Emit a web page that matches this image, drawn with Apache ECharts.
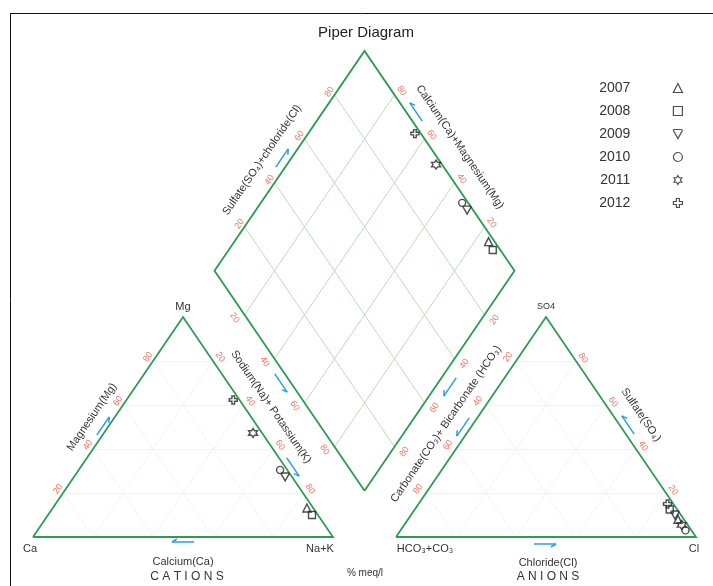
<!DOCTYPE html>
<html>
<head>
<meta charset="UTF-8">
<title>Piper Diagram</title>
<style>
  html, body { margin: 0; padding: 0; background: #fff; }
  #main { width: 713px; height: 586px; }
</style>
</head>
<body>
<div id="main"></div>
<script src="https://cdn.jsdelivr.net/npm/echarts@6/dist/echarts.min.js"></script>
<script>
// sampling years
var years = ['2007', '2008', '2009', '2010', '2011', '2012'];
// cations, % meq/l
var ca  = [2.1, 2.0, 2.3, 2.4, 3.0, 2.1];
var mg  = [13.2, 10.0, 27.3, 30.5, 47.3, 62.3];
var naK = [84.7, 88.0, 70.4, 67.1, 49.7, 35.6];
// anions, % meq/l
var hco3 = [2.0, 2.5, 2.0, 2.0, 2.0, 2.0];
var so4  = [8.0, 12.5, 10.0, 3.0, 5.5, 15.0];
var cl   = [90.0, 85.0, 88.0, 95.0, 92.5, 83.0];
// percentage ticks on every side
var ticks = [20, 40, 60, 80];

// --- geometry (triangle side = 100) ---
var H = 86.6, G = 21;
var B = [100 + G / 2, G * H / 100];   // bottom vertex of the diamond
var SX = 663 / 221, SY = 508 / 200;    // px per unit
var ROT = 55.7, RAD = ROT * Math.PI / 180;
var FONT = 'Liberation Sans, Arial, sans-serif';

function cat(c, m, n) { return [n + m / 2, m * H / 100]; }
function an(h, s, c) { return [100 + G + c + s / 2, s * H / 100]; }
function dia(cm, sc) { return [B[0] + (sc - cm) / 2, B[1] + (sc + cm) * H / 100]; }
function sh(p, dx, dy) { return [p[0] + dx / SX, p[1] - dy / SY]; }

// frames
var frames = [
    [cat(100, 0, 0), cat(0, 0, 100), cat(0, 100, 0), cat(100, 0, 0)],
    [an(100, 0, 0), an(0, 0, 100), an(0, 100, 0), an(100, 0, 0)],
    [dia(0, 0), dia(0, 100), dia(100, 100), dia(100, 0), dia(0, 0)]
];

// inner grid lines + tick labels
var triGrid = [], diaGrid = [], tickData = [];
function addTick(p, v, dx, dy, rot) {
    tickData.push({name: String(v), value: sh(p, dx, dy), label: {rotate: rot}});
}
ticks.forEach(function (v) {
    var w = 100 - v;
    triGrid.push({coords: [cat(w, v, 0), cat(0, v, w)]});
    triGrid.push({coords: [cat(v, 0, w), cat(v, w, 0)]});
    triGrid.push({coords: [cat(w, 0, v), cat(0, w, v)]});
    triGrid.push({coords: [an(w, v, 0), an(0, v, w)]});
    triGrid.push({coords: [an(v, 0, w), an(v, w, 0)]});
    triGrid.push({coords: [an(w, 0, v), an(0, w, v)]});
    diaGrid.push({coords: [dia(0, v), dia(100, v)]});
    diaGrid.push({coords: [dia(v, 0), dia(v, 100)]});

    addTick(cat(v, 0, w), v, 1, 8, 0);          // Ca
    addTick(cat(w, v, 0), v, -5, -4, ROT);      // Mg
    addTick(cat(0, w, v), v, 7, -4, -ROT);      // Na+K
    addTick(an(w, 0, v), v, 0, 8, 0);           // Cl
    addTick(an(v, w, 0), v, -8, -4, ROT);       // HCO3
    addTick(an(0, v, w), v, 7, -3, -ROT);       // SO4
    addTick(dia(100, v), v, -5, -3, ROT);       // SO4+Cl
    addTick(dia(v, 100), v, 7, -4, -ROT);       // Ca+Mg
    addTick(dia(w, 0), v, -10, 3, -ROT);        // Na+K (diamond)
    addTick(dia(0, w), v, 10, 5, ROT);          // HCO3 (diamond)
});

var symbols = [
    'triangle',
    'rect',
    'path://M-8,-6 Q-8,-8 -6,-8 L6,-8 Q8,-8 8,-6 L0,8 Z',
    'circle',
    'path://M0,-10 L2.9,-5 L8.66,-5 L5.8,0 L8.66,5 L2.9,5 L0,10 L-2.9,5 L-8.66,5 L-5.8,0 L-8.66,-5 L-2.9,-5 Z',
    'path://M-3,-9 L3,-9 L3,-3 L9,-3 L9,3 L3,3 L3,9 L-3,9 L-3,3 L-9,3 L-9,-3 L-3,-3 Z'
];
var sizes = [8, 7, 8, 7, 9, 8];

var series = [
    {
        type: 'lines', coordinateSystem: 'cartesian2d', silent: true, z: 1,
        lineStyle: {color: '#f3f3f3', width: 1, opacity: 1},
        data: triGrid
    },
    {
        type: 'lines', coordinateSystem: 'cartesian2d', silent: true, z: 1,
        lineStyle: {color: '#bddcbd', width: 1, opacity: 1},
        data: diaGrid
    },
    {
        type: 'lines', coordinateSystem: 'cartesian2d', polyline: true, silent: true, z: 2,
        lineStyle: {color: '#2f9a52', width: 1.8, opacity: 1},
        data: frames.map(function (f) { return {coords: f}; })
    },
    {
        type: 'scatter', silent: true, symbolSize: 1, z: 3,
        itemStyle: {color: 'rgba(0,0,0,0)'},
        label: {
            show: true, position: 'inside', formatter: '{b}',
            color: '#e8553e', fontSize: 9, fontFamily: FONT
        },
        data: tickData
    }
];

years.forEach(function (y, i) {
    series.push({
        name: y,
        type: 'scatter',
        symbol: symbols[i],
        symbolSize: sizes[i],
        z: 10,
        itemStyle: {color: 'rgba(255,255,255,0)', borderColor: '#222', borderWidth: 1.4},
        data: [
            cat(ca[i], mg[i], naK[i]),
            an(hco3[i], so4[i], cl[i]),
            dia(ca[i] + mg[i], so4[i] + cl[i])
        ]
    });
});

// --- annotations ---
var BLUE = '#2a9fd8';
function arrow(cx, cy, ang) {
    var h = 11;
    var st = {stroke: BLUE, lineWidth: 1.5};
    return {
        type: 'group', x: cx, y: cy, rotation: ang, silent: true,
        children: [
            {type: 'line', shape: {x1: -h, y1: 0, x2: h, y2: 0}, style: st},
            {type: 'line', shape: {x1: h, y1: 0, x2: h - 5, y2: 3}, style: st}
        ]
    };
}
function txt(x, y, s, size, rot, color) {
    return {
        type: 'text', x: x, y: y, rotation: rot || 0, silent: true,
        style: {
            text: s, fill: color || '#333', font: (size || 11) + 'px ' + FONT,
            align: 'center', verticalAlign: 'middle',
            textAlign: 'center', textVerticalAlign: 'middle'
        }
    };
}

var graphics = [
    {type: 'line', shape: {x1: 10.5, y1: 13, x2: 10.5, y2: 586}, style: {stroke: '#111', lineWidth: 1}},
    {type: 'line', shape: {x1: 10, y1: 13.5, x2: 713, y2: 13.5}, style: {stroke: '#111', lineWidth: 1}},
    txt(366, 33, 'Piper Diagram', 15, 0, '#222'),

    txt(262, 160, 'Sulfate(SO₄)+choloride(Cl)', 11, RAD),
    txt(460, 147, 'Calcium(Ca)+Magnesium(Mg)', 11, -RAD),
    txt(271, 407, 'Sodium(Na)+ Potassium(K)', 11, -RAD),
    txt(92, 417, 'Magnesium(Mg)', 11, RAD),
    txt(446, 424, 'Carbonate(CO₃)+ Bicarbonate (HCO₃)', 11, RAD),
    txt(641, 415, 'Sulfate(SO₄)', 11, -RAD),

    txt(183, 307, 'Mg', 11),
    txt(30, 549, 'Ca', 11),
    txt(320, 549, 'Na+K', 11),
    txt(425, 549, 'HCO₃+CO₃', 11),
    txt(694, 549, 'Cl', 11),
    txt(546, 307, 'SO4', 9),

    txt(183, 562, 'Calcium(Ca)', 11),
    txt(187, 577, 'C A T I O N S', 12),
    txt(548, 563, 'Chloride(Cl)', 11),
    txt(548, 577, 'A N I O N S', 12),
    txt(365, 573, '% meq/l', 10),

    arrow(282, 158, RAD),
    arrow(416, 112, Math.PI - RAD),
    arrow(281, 383, -RAD),
    arrow(293, 467, -RAD),
    arrow(103, 426, RAD),
    arrow(450, 387, Math.PI + RAD),
    arrow(463, 427, Math.PI + RAD),
    arrow(628, 425, Math.PI - RAD),
    arrow(183, 542, Math.PI),
    arrow(545, 544, 0)
];

var chart = echarts.init(document.getElementById('main'));
chart.setOption({
    animation: false,
    backgroundColor: '#fff',
    grid: {left: 33, right: 17, top: 29, bottom: 49},
    xAxis: {type: 'value', min: 0, max: 221, show: false},
    yAxis: {type: 'value', min: 0, max: 200, show: false},
    legend: {
        data: years,
        orient: 'vertical',
        right: 25,
        top: 76,
        align: 'right',
        itemWidth: 9,
        itemHeight: 9,
        itemGap: 9,
        itemStyle: {color: 'rgba(255,255,255,0)', borderColor: '#222', borderWidth: 1.2},
        textStyle: {fontSize: 14, color: '#333', fontFamily: FONT, padding: [0, 38, 0, 0]}
    },
    graphic: graphics,
    series: series
});
</script>
</body>
</html>
